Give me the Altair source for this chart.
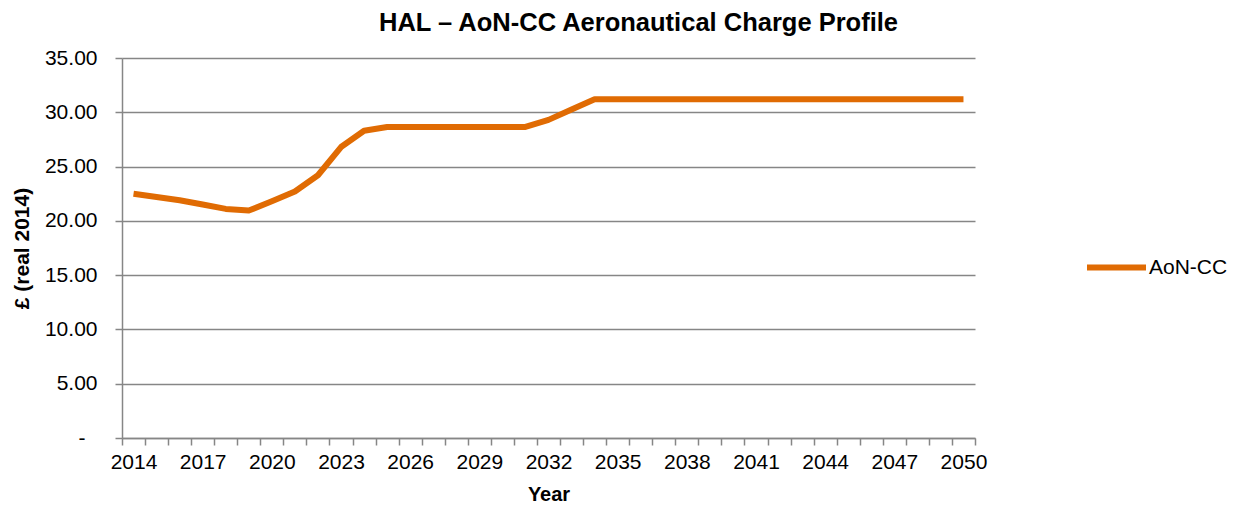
import altair as alt
import pandas as pd

years = list(range(2014, 2051))
values = [22.5, 22.2, 21.9, 21.5, 21.1, 20.95, 21.8, 22.7, 24.2, 26.8, 28.3, 28.65,
          28.65, 28.65, 28.65, 28.65, 28.65, 28.65, 29.3, 30.25, 31.2] + [31.2] * 16
series = ["AoN-CC"] * len(years)

df = pd.DataFrame({"Year": years, "Value": values, "Series": series})

FONT = "Liberation Sans"
ORANGE = "#E06B03"
GRID = "#868686"

chart = alt.Chart(df).mark_line(strokeWidth=6, interpolate="linear", color=ORANGE,
                                strokeJoin="round").encode(
    x=alt.X("Year:O",
            scale=alt.Scale(type="band", paddingInner=0, paddingOuter=0),
            axis=alt.Axis(title="Year", tickBand="extent", labelAngle=0,
                          labelExpr="(datum.value - 2014) % 3 == 0 ? datum.label : ''",
                          labelFontSize=21, titleFontSize=20, titleFontWeight="bold",
                          labelColor="#000000", titleColor="#000000",
                          domainColor=GRID, tickColor=GRID, domainWidth=1.5, tickWidth=1.5,
                          tickSize=7, labelPadding=6, titlePadding=12, grid=False,
                          labelFont=FONT, titleFont=FONT)),
    y=alt.Y("Value:Q",
            scale=alt.Scale(domain=[0, 35], nice=False),
            axis=alt.Axis(title="£ (real 2014)", values=[0, 5, 10, 15, 20, 25, 30, 35],
                          labelExpr="datum.value == 0 ? '-' : format(datum.value, '.2f')",
                          labelFontSize=21, titleFontSize=21, titleFontWeight="bold",
                          labelColor="#000000", titleColor="#000000",
                          domainColor=GRID, tickColor=GRID, domainWidth=1.5, tickWidth=1.5,
                          gridColor=GRID, gridWidth=1.5, grid=True,
                          tickSize=7,
                          labelPadding={"condition": {"test": "datum.value == 0", "value": 30},
                                        "value": 18},
                          titlePadding=12,
                          labelFont=FONT, titleFont=FONT)),
    stroke=alt.Stroke("Series:N", scale=alt.Scale(range=[ORANGE]),
                      legend=alt.Legend(title=None, orient="none", legendX=962, legendY=177,
                                        symbolType="stroke", symbolSize=3481,
                                        symbolStrokeWidth=6, symbolStrokeColor=ORANGE,
                                        labelFontSize=21, labelFont=FONT, labelColor="#000000",
                                        labelOffset=0)),
).properties(
    width=853,
    height=380,
    title=alt.TitleParams("HAL – AoN-CC Aeronautical Charge Profile", fontSize=25.5,
                          fontWeight="bold", font=FONT, color="#000000", dx=90, offset=11),
    autosize="none",
    padding={"left": 114, "top": 50, "right": 254, "bottom": 70},
).configure_view(stroke=None)

chart.save("out.html", embed_options={"renderer": "svg", "actions": False})
